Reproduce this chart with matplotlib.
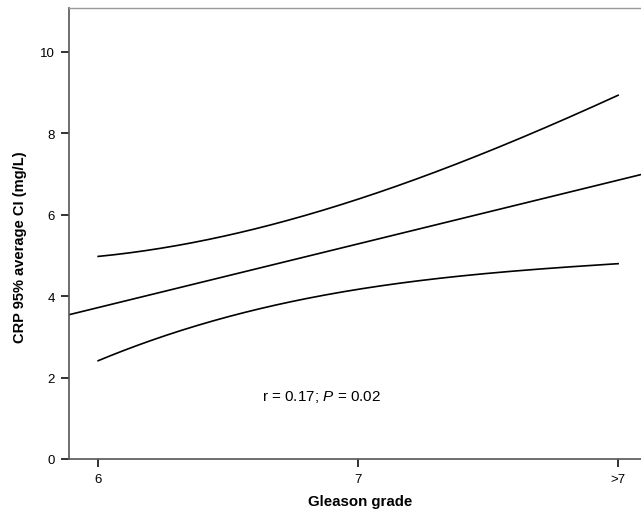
import numpy as np
import matplotlib
matplotlib.use("Agg")
import matplotlib.pyplot as plt

plt.rcParams['font.family'] = ['Liberation Sans', 'DejaVu Sans']
plt.rcParams['mathtext.fontset'] = 'custom'
plt.rcParams['mathtext.rm'] = 'Liberation Sans'
plt.rcParams['mathtext.it'] = 'Liberation Sans:italic'

# Gleason grade positions (6, 7, >7 coded as 6, 7, 8)
grade_pos = [6, 7, 8]
grade_labels = ['6', '7', '>7']

# fitted regression line (values at grade 6 and >7)
fit_x = [6, 8]
fit_y = [3.72, 6.85]

# 95% CI bands
ci_x = [6.0, 6.25, 6.5, 6.75, 7.0, 7.25, 7.5, 7.75, 8.0]
ci_upper = [4.98, 5.18, 5.50, 5.90, 6.38, 6.95, 7.55, 8.22, 8.94]
ci_lower = [2.42, 3.00, 3.50, 3.88, 4.17, 4.39, 4.56, 4.69, 4.80]

y_ticks = [0, 2, 4, 6, 8, 10]

fig = plt.figure(figsize=(6.41, 5.10), dpi=100)
ax = fig.add_axes([69 / 641, 50 / 510, 572 / 641, 451 / 510])

# smooth curve through the read points
xs = np.linspace(ci_x[0], ci_x[-1], 200)
up = np.polyval(np.polyfit(ci_x, ci_upper, 3), xs)
lo = np.polyval(np.polyfit(ci_x, ci_lower, 3), xs)
ax.plot(xs, up, color='black', lw=1.2)
ax.plot(xs, lo, color='black', lw=1.2)
ax.axline((fit_x[0], fit_y[0]), (fit_x[1], fit_y[1]), color='black', lw=1.2)

ax.set_xlim(5.888, 8.088)
ax.set_ylim(0, 11.08)
ax.set_xticks(grade_pos)
ax.set_xticklabels(grade_labels)
ax.set_yticks(y_ticks)
ax.tick_params(axis='both', direction='out', length=6, width=1.3, labelsize=9.5,
               color='#222222', pad=4)

ax.spines['right'].set_visible(False)
ax.spines['top'].set_color('#999999')
ax.spines['top'].set_linewidth(1.0)
for s in ['left', 'bottom']:
    ax.spines[s].set_color('#555555')
    ax.spines[s].set_linewidth(1.2)

ax.set_xlabel('Gleason grade', fontsize=10.8, fontweight='bold')
ax.set_ylabel('CRP 95% average CI (mg/L)', fontsize=10.5, fontweight='bold')
ax.xaxis.set_label_coords(0.509, -0.077)
ax.yaxis.set_label_coords(-0.073, 0.471)

ax.text(6.86, 1.55, 'r = 0.17; $P$ = 0.02', fontsize=11, ha='center', va='center')

fig.savefig('out.png', dpi=100)
